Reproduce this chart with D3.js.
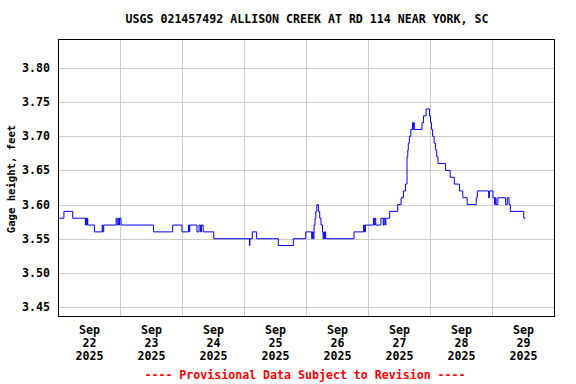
<!DOCTYPE html>
<html lang="en">
<head>
    <meta charset="UTF-8">
    <title>USGS 021457492 Gage height</title>
    <script src="https://d3js.org/d3.v7.min.js"></script>
    <style>
        body { margin: 0; background: #fff; }
        text { font-family: "DejaVu Sans Mono", monospace; font-weight: bold; }
    </style>
</head>
<body>
    <svg id="chart" width="576" height="384"></svg>

    <script>
        // Gage height record: hours since Sep 22 2025 00:00 where the reading changes, and the value (ft)
        const changeHours = [
            0, 2.3, 5.7, 10.6, 10.8, 11.1, 11.3, 11.5, 14.1, 17.1, 17.4, 17.7,
            22.5, 22.9, 23.3, 23.6, 23.8, 24.4, 37.0, 44.4, 48.0, 50.5, 50.8, 51.0,
            53.8, 54.6, 55.2, 55.5, 56.2, 60.3, 74.1, 74.3, 75.2, 76.9, 85.3, 91.1,
            95.9, 98.2, 98.5, 98.8, 99.1, 99.5, 99.8, 100.2, 100.8, 101.3, 101.8, 102.4,
            102.6, 102.9, 103.1, 103.3, 103.6, 114.6, 118.3, 118.6, 119.0, 122.1, 122.4, 122.7,
            123.0, 125.0, 125.9, 126.2, 126.6, 126.9, 128.4, 131.5, 132.8, 133.7, 134.5, 135.1,
            135.4, 135.6, 136.0, 136.6, 137.3, 137.5, 137.7, 137.9, 140.9, 141.5, 142.5, 143.8,
            144.2, 144.6, 145.0, 145.6, 146.1, 146.6, 147.1, 150.0, 151.8, 153.4, 155.4, 156.7,
            158.4, 161.9, 162.3, 166.7, 167.0, 168.4, 169.0, 169.3, 169.6, 170.3, 173.3, 173.9,
            174.6, 175.1, 180.3, 181.0
        ];
        const gageFeet = [
            3.58, 3.59, 3.58, 3.57, 3.58, 3.57, 3.58, 3.57, 3.56, 3.57, 3.56, 3.57,
            3.58, 3.57, 3.58, 3.57, 3.58, 3.57, 3.56, 3.57, 3.56, 3.57, 3.56, 3.57,
            3.56, 3.57, 3.56, 3.57, 3.56, 3.55, 3.54, 3.55, 3.56, 3.55, 3.54, 3.55,
            3.56, 3.55, 3.56, 3.55, 3.57, 3.58, 3.59, 3.60, 3.59, 3.58, 3.57, 3.56,
            3.55, 3.56, 3.55, 3.56, 3.55, 3.56, 3.57, 3.56, 3.57, 3.58, 3.57, 3.58,
            3.57, 3.58, 3.57, 3.58, 3.57, 3.58, 3.59, 3.60, 3.61, 3.62, 3.63, 3.67,
            3.68, 3.69, 3.70, 3.71, 3.72, 3.71, 3.72, 3.71, 3.72, 3.73, 3.74, 3.73,
            3.72, 3.71, 3.70, 3.69, 3.68, 3.67, 3.66, 3.65, 3.64, 3.63, 3.62, 3.61,
            3.60, 3.61, 3.62, 3.61, 3.62, 3.61, 3.60, 3.61, 3.60, 3.61, 3.60, 3.61,
            3.60, 3.59, 3.58, 3.58
        ];

        const yTicks = [3.45, 3.50, 3.55, 3.60, 3.65, 3.70, 3.75, 3.80];
        const dayLabels = ["22", "23", "24", "25", "26", "27", "28", "29"];
        const monthLabel = "Sep";
        const yearLabel = "2025";

        const title = "USGS 021457492 ALLISON CREEK AT RD 114 NEAR YORK, SC";
        const yTitle = "Gage height, feet";
        const footer = "---- Provisional Data Subject to Revision ----";

        const start = new Date(2025, 8, 22);
        const end = new Date(2025, 8, 30);

        const plotLeft = 58, plotRight = 554, plotTop = 39, plotBottom = 316;

        const svg = d3.select("#chart");

        const x = d3.scaleTime().domain([start, end]).range([plotLeft, plotRight]);
        const y = d3.scaleLinear().domain([3.4368, 3.8425]).range([plotBottom, plotTop]);

        // y grid + labels
        const yAxis = svg.append("g")
            .attr("transform", `translate(${plotLeft},0)`)
            .call(d3.axisLeft(y).tickValues(yTicks).tickSize(-(plotRight - plotLeft)).tickPadding(8).tickFormat(d3.format(".2f")));
        yAxis.select(".domain").remove();
        yAxis.selectAll(".tick").attr("transform", d => `translate(0,${Math.round(y(d)) + 0.5})`);
        yAxis.selectAll(".tick line").attr("stroke", "#cccccc");
        yAxis.selectAll(".tick text").attr("font-size", "11.6px").attr("fill", "#000")
            .attr("font-family", "DejaVu Sans Mono").attr("font-weight", "bold");

        // x grid at midnights
        const midnights = d3.timeDay.range(d3.timeDay.offset(start, 1), end);
        const xGrid = svg.append("g")
            .attr("transform", `translate(0,${plotBottom})`)
            .call(d3.axisBottom(x).tickValues(midnights).tickSize(-(plotBottom - plotTop)).tickFormat(""));
        xGrid.select(".domain").remove();
        xGrid.selectAll(".tick line").attr("stroke", "#cccccc");

        // x labels at noon of each day
        const noons = dayLabels.map((d, i) => d3.timeHour.offset(start, 24 * i + 12));
        const xLab = svg.append("g")
            .attr("transform", `translate(0,${plotBottom})`)
            .call(d3.axisBottom(x).tickValues(noons).tickSize(0).tickFormat(""));
        xLab.select(".domain").remove();
        xLab.selectAll(".tick text").remove();
        const lab = xLab.selectAll(".tick").append("text")
            .attr("text-anchor", "middle")
            .attr("font-size", "11.6px")
            .attr("fill", "#000");
        lab.append("tspan").attr("x", 0).attr("y", 18).text(monthLabel);
        lab.append("tspan").attr("x", 0).attr("y", 31).text((d, i) => dayLabels[i]);
        lab.append("tspan").attr("x", 0).attr("y", 44).text(yearLabel);

        // data line
        const data = changeHours.map((h, i) => ({ t: new Date(start.getTime() + h * 3600e3), v: gageFeet[i] }));
        const line = d3.line()
            .x(d => x(d.t))
            .y(d => y(d.v))
            .curve(d3.curveStepAfter);
        svg.append("path")
            .datum(data)
            .attr("d", line)
            .attr("fill", "none")
            .attr("stroke", "#0000ff")
            .attr("stroke-width", 1);

        // frame
        svg.append("rect")
            .attr("x", plotLeft + 0.5).attr("y", plotTop + 0.5)
            .attr("width", plotRight - plotLeft).attr("height", plotBottom - plotTop)
            .attr("fill", "none").attr("stroke", "#000").attr("stroke-width", 1);

        // titles
        svg.append("text")
            .attr("x", 307).attr("y", 23)
            .attr("text-anchor", "middle")
            .attr("font-size", "11.6px")
            .text(title);

        svg.append("text")
            .attr("transform", "translate(15,179) rotate(-90)")
            .attr("text-anchor", "middle")
            .attr("font-size", "10.6px")
            .text(yTitle);

        svg.append("text")
            .attr("x", 305).attr("y", 379)
            .attr("text-anchor", "middle")
            .attr("font-size", "11.6px")
            .attr("fill", "#ff0000")
            .text(footer);
    </script>
</body>
</html>
